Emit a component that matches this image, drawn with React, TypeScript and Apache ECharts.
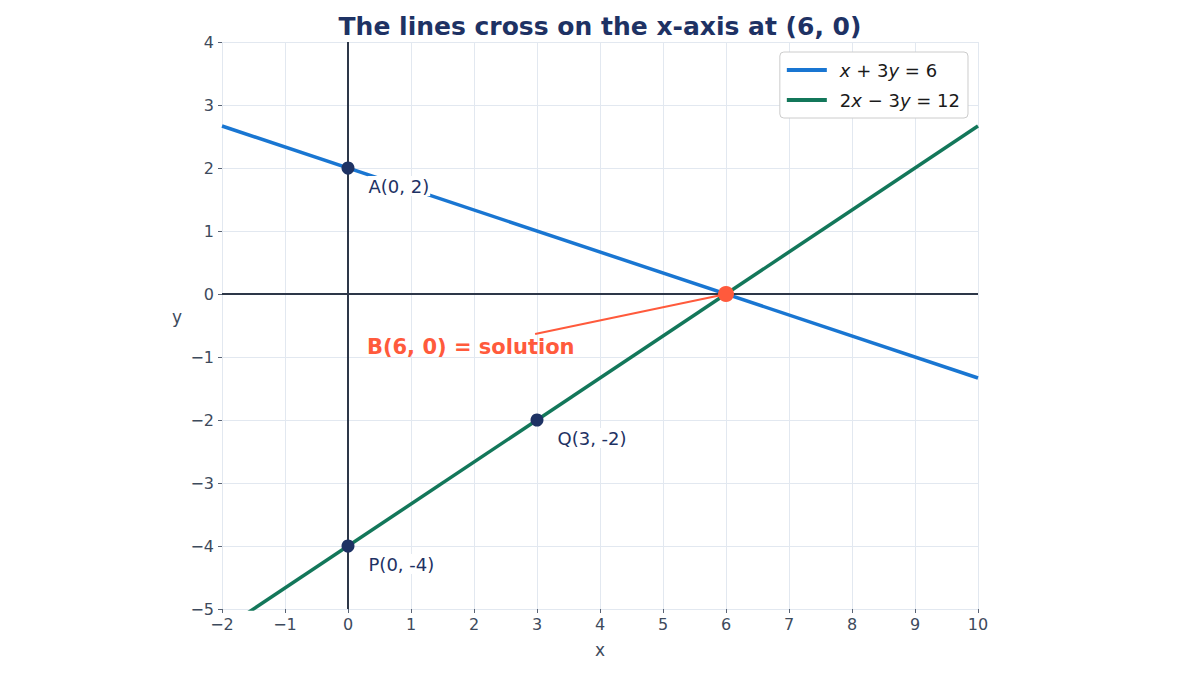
import { useEffect, useRef } from 'react'
import * as echarts from 'echarts'

const X_RANGE = [-2, 10]
const Y_RANGE = [-5, 4]

// x + 3y = 6  and  2x - 3y = 12, sampled at the ends of the x range
const lineBlue: [number, number][] = [
  [-2, 8 / 3],
  [10, -4 / 3],
]
const lineGreen: [number, number][] = [
  [-2, -16 / 3],
  [10, 8 / 3],
]

const namedPoints = [
  { name: 'A(0, 2)', value: [0, 2] },
  { name: 'Q(3, -2)', value: [3, -2] },
  { name: 'P(0, -4)', value: [0, -4] },
]
const solutionPoint = [6, 0]
const solutionLabel = 'B(6, 0) = solution'
const solutionLabelAt = [0.3, -0.84]
const arrowLine: [number, number][] = [
  [2.97, -0.635],
  [5.93, -0.015],
]

const BLUE = '#1976d2'
const GREEN = '#13775a'
const NAVY = '#1e3264'
const ORANGE = '#ff5a3c'
const AXIS_DARK = '#2d3748'
const TICK_TEXT = '#3d4a5c'
const FONT = 'DejaVu Sans'

const minus = (v: number) => String(v).replace('-', '\u2212')

export default function App() {
  const ref = useRef<HTMLDivElement>(null)

  useEffect(() => {
    document.body.style.margin = '0'
    const el = ref.current
    if (!el) return
    const chart = echarts.init(el, undefined, { renderer: 'svg' })

    const axisCommon = {
      axisLine: { show: false, onZero: false },
      axisTick: { show: true, length: 4, lineStyle: { color: '#5a6475', width: 1 } },
      axisLabel: { color: TICK_TEXT, fontSize: 16, fontFamily: FONT, formatter: minus },
      splitLine: { show: true, lineStyle: { color: '#e2e8f0', width: 1 } },
      nameTextStyle: { color: TICK_TEXT, fontSize: 17, fontFamily: FONT },
      nameLocation: 'middle' as const,
    }

    chart.setOption({
      animation: false,
      backgroundColor: '#ffffff',
      title: {
        text: 'The lines cross on the x-axis at (6, 0)',
        left: 'center',
        top: 9,
        textStyle: { color: NAVY, fontSize: 25, fontWeight: 'bold', fontFamily: FONT },
      },
      grid: { left: 222, right: 222, top: 42, bottom: 66 },
      xAxis: {
        ...axisCommon,
        type: 'value',
        min: X_RANGE[0],
        max: X_RANGE[1],
        interval: 1,
        name: 'x',
        nameGap: 32,
        axisLabel: { ...axisCommon.axisLabel, margin: 7 },
      },
      yAxis: {
        ...axisCommon,
        type: 'value',
        min: Y_RANGE[0],
        max: Y_RANGE[1],
        interval: 1,
        name: 'y',
        nameGap: 40,
        nameRotate: 0,
        nameTextStyle: { ...axisCommon.nameTextStyle, verticalAlign: 'bottom' },
        axisLabel: { ...axisCommon.axisLabel, margin: 8 },
      },
      legend: {
        data: ['x + 3y = 6', '2x \u2212 3y = 12'],
        orient: 'vertical',
        right: 232,
        top: 52,
        backgroundColor: '#ffffff',
        borderColor: '#cccccc',
        borderWidth: 1,
        borderRadius: 4,
        padding: [9, 8, 9, 7],
        itemGap: 12,
        itemWidth: 40,
        itemHeight: 4,
        icon: 'rect',
        textStyle: {
          color: '#1a1a1a',
          fontSize: 18,
          fontFamily: FONT,
          padding: [0, 0, 0, 8],
          rich: {
            i: { fontStyle: 'italic', fontSize: 18, fontFamily: FONT, color: '#1a1a1a' },
          },
        },
        formatter: (name: string) =>
          name === 'x + 3y = 6' ? '{i|x} + 3{i|y} = 6' : '2{i|x} \u2212 3{i|y} = 12',
      },
      series: [
        {
          type: 'line',
          data: [
            [X_RANGE[0], 0],
            [X_RANGE[1], 0],
          ],
          symbol: 'none',
          lineStyle: { color: AXIS_DARK, width: 2 },
          silent: true,
          z: 1,
        },
        {
          type: 'line',
          data: [
            [0, Y_RANGE[0]],
            [0, Y_RANGE[1]],
          ],
          symbol: 'none',
          lineStyle: { color: AXIS_DARK, width: 2 },
          silent: true,
          z: 1,
        },
        {
          name: 'x + 3y = 6',
          type: 'line',
          data: lineBlue,
          symbol: 'none',
          color: BLUE,
          lineStyle: { color: BLUE, width: 3.5 },
          z: 2,
        },
        {
          name: '2x \u2212 3y = 12',
          type: 'line',
          data: lineGreen,
          symbol: 'none',
          color: GREEN,
          lineStyle: { color: GREEN, width: 3.5 },
          z: 2,
        },
        {
          type: 'line',
          data: arrowLine,
          symbol: 'none',
          lineStyle: { color: ORANGE, width: 2 },
          z: 3,
        },
        {
          type: 'scatter',
          data: namedPoints,
          symbolSize: 13,
          itemStyle: { color: NAVY, opacity: 1 },
          z: 4,
          label: {
            show: true,
            position: 'right',
            distance: 13,
            offset: [0, 18],
            formatter: '{b}',
            color: NAVY,
            fontSize: 18,
            fontFamily: FONT,
            backgroundColor: '#ffffff',
            padding: [1, 1, 1, 1],
          },
        },
        {
          type: 'scatter',
          data: [solutionPoint],
          symbolSize: 16,
          itemStyle: { color: ORANGE, opacity: 1 },
          z: 5,
        },
        {
          type: 'scatter',
          data: [solutionLabelAt],
          symbolSize: 0,
          itemStyle: { opacity: 1 },
          z: 5,
          label: {
            show: true,
            position: 'inside',
            align: 'left',
            formatter: solutionLabel,
            color: ORANGE,
            fontSize: 21,
            fontWeight: 'bold',
            fontFamily: FONT,
          },
        },
      ],
    })

    return () => chart.dispose()
  }, [])

  return <div ref={ref} style={{ width: 1200, height: 675 }} />
}
